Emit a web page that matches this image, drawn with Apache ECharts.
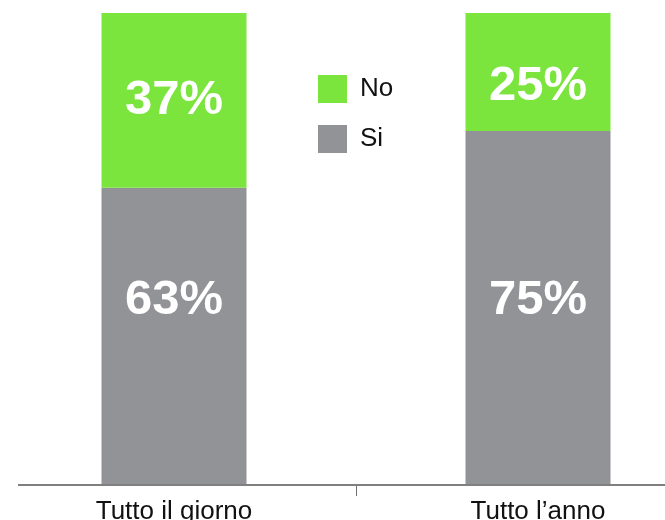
<!DOCTYPE html>
<html>
<head>
<meta charset="utf-8">
<script src="https://cdn.jsdelivr.net/npm/echarts@6/dist/echarts.min.js"></script>
<style>
  html, body { margin: 0; padding: 0; background: #fff; }
  #chart { width: 665px; height: 520px; }
</style>
</head>
<body>
<div id="chart"></div>
<script>
// Categories and shares (percent) for each answer
const categories = ['Tutto il giorno', 'Tutto l\u2019anno'];
const siValues = [63, 75];
const noValues = [37, 25];
const legendNames = ['No', 'Si'];

const GREEN = '#7be53e';
const GREY = '#929397';

// label offsets keep the percentages where they sit in the layout
const siLabelOffsets = [[0, -36], [0, -8]];
const noLabelOffsets = [[0, 0], [0, 14]];

function buildData(values, offsets) {
  return values.map((v, i) => ({ value: v, label: { offset: offsets[i] } }));
}

const chart = echarts.init(document.getElementById('chart'));
const valueLabel = {
  show: true,
  position: 'inside',
  color: '#ffffff',
  fontFamily: 'Liberation Sans, Arial, sans-serif',
  fontWeight: 'bold',
  fontSize: 49,
  formatter: p => p.value + '%'
};

chart.setOption({
  animation: false,
  backgroundColor: '#ffffff',
  grid: { left: -8, width: 728, top: 13, bottom: 35, containLabel: false, outerBoundsMode: 'none' },
  legend: {
    data: legendNames,
    orient: 'vertical',
    left: 313,
    top: 70,
    itemWidth: 29,
    itemHeight: 28,
    itemGap: 22,
    icon: 'rect',
    textStyle: { fontFamily: 'Liberation Sans, Arial, sans-serif', fontSize: 26, color: '#111', padding: [0, 0, 2, 8] }
  },
  xAxis: {
    type: 'category',
    data: categories,
    axisLine: { show: false },
    axisTick: { show: true, length: 11, lineStyle: { color: '#6f6f6f', width: 1 } },
    axisLabel: {
      margin: 14,
      fontFamily: 'Liberation Sans, Arial, sans-serif',
      fontSize: 26,
      color: '#111'
    }
  },
  yAxis: { type: 'value', min: 0, max: 100, show: false },
  series: [
    {
      name: 'Si', type: 'bar', stack: 'total', barWidth: 145,
      itemStyle: { color: GREY },
      label: valueLabel,
      data: buildData(siValues, siLabelOffsets)
    },
    {
      name: 'No', type: 'bar', stack: 'total', barWidth: 145,
      itemStyle: { color: GREEN },
      label: valueLabel,
      data: buildData(noValues, noLabelOffsets)
    }
  ],
  graphic: [{
    type: 'line',
    shape: { x1: 18, y1: 485, x2: 665, y2: 485 },
    style: { stroke: '#7f7f7f', lineWidth: 2 },
    z: 10
  }]
});
</script>
</body>
</html>
